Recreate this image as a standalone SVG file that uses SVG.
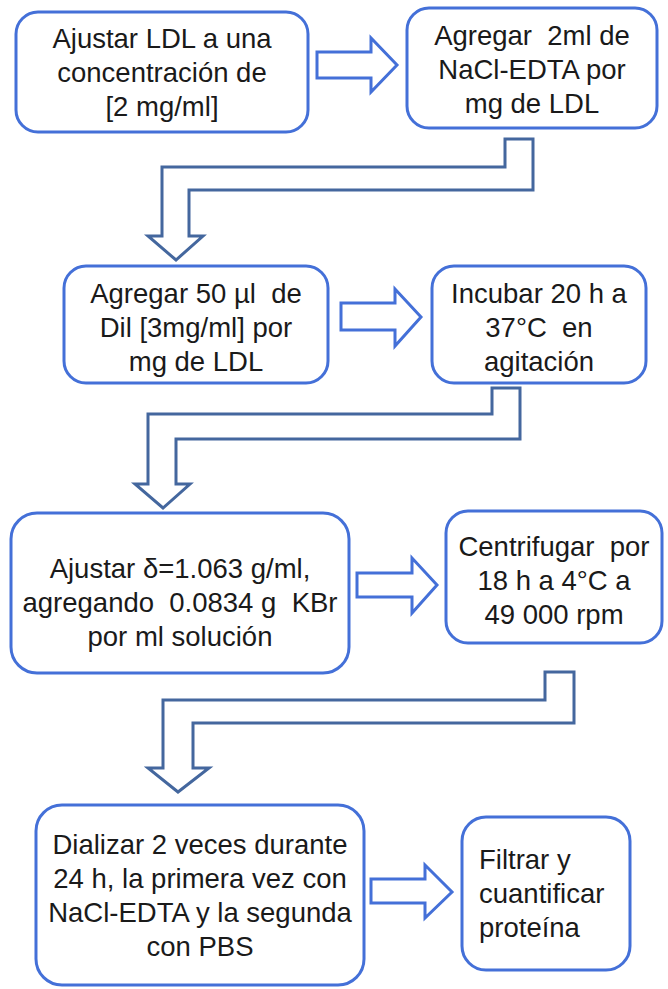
<svg xmlns="http://www.w3.org/2000/svg" width="668" height="989" viewBox="0 0 668 989">
<style>
.box{fill:#ffffff;stroke:#4470d8;stroke-width:3}
.ra{fill:#ffffff;stroke:#4470d8;stroke-width:3;stroke-linejoin:miter}
.lc{fill:#ffffff;stroke:#44679e;stroke-width:3;stroke-linejoin:miter}
text{font-family:"Liberation Sans",Arial,sans-serif;font-size:27.5px;fill:#1a1a1a;white-space:pre}
.c{text-anchor:middle}
</style>
<rect width="668" height="989" fill="#ffffff"/>
<g id="connectors">
<polygon class="ra" points="317,52 371,52 371,38 397,65 371,92 371,78 317,78"/>
<polygon class="ra" points="341,303 395,303 395,289 421,317 395,346 395,330 341,330"/>
<polygon class="ra" points="357,573 412,573 412,558 437,585 412,613 412,597 357,597"/>
<polygon class="ra" points="371,879 425,879 425,865 452,892 425,918 425,903 371,903"/>
<polygon class="lc" points="505,139 533,139 533,190 189,190 189,236 203,236 176,260 148,236 162,236 162,167 505,167"/>
<polygon class="lc" points="492,388 520,388 520,439 176,439 176,484 190,484 163,508 135,484 148,484 148,414 492,414"/>
<polygon class="lc" points="545,672 574,672 574,723 193,723 193,768 209,768 178,792 148,768 163,768 163,700 545,700"/>
</g>
<g id="n1">
<rect class="box" x="16" y="12" width="292" height="120" rx="22"/>
<text class="c" x="162" y="48">Ajustar LDL a una</text>
<text class="c" x="162" y="82">concentración de</text>
<text class="c" x="162" y="116">[2 mg/ml]</text>
</g>
<g id="n2">
<rect class="box" x="407" y="8" width="250" height="120" rx="22"/>
<text class="c" x="532" y="45">Agregar  2ml de</text>
<text class="c" x="532" y="79">NaCl-EDTA por</text>
<text class="c" x="532" y="113">mg de LDL</text>
</g>
<g id="n3">
<rect class="box" x="64" y="266" width="264" height="117" rx="22"/>
<text class="c" x="196" y="303">Agregar 50 µl  de</text>
<text class="c" x="196" y="337">Dil [3mg/ml] por</text>
<text class="c" x="196" y="371">mg de LDL</text>
</g>
<g id="n4">
<rect class="box" x="432" y="266" width="214" height="117" rx="22"/>
<text class="c" x="539" y="303">Incubar 20 h a</text>
<text class="c" x="539" y="337">37°C  en</text>
<text class="c" x="539" y="371">agitación</text>
</g>
<g id="n5">
<rect class="box" x="11" y="513" width="338" height="160" rx="26"/>
<text class="c" x="180" y="578">Ajustar δ=1.063 g/ml,</text>
<text class="c" x="180" y="612">agregando  0.0834 g  KBr</text>
<text class="c" x="180" y="646">por ml solución</text>
</g>
<g id="n6">
<rect class="box" x="446" y="511" width="216" height="132" rx="22"/>
<text class="c" x="554" y="556">Centrifugar  por</text>
<text class="c" x="554" y="590">18 h a 4°C a</text>
<text class="c" x="554" y="624">49 000 rpm</text>
</g>
<g id="n7">
<rect class="box" x="36" y="805" width="328" height="180" rx="26"/>
<text class="c" x="200" y="854">Dializar 2 veces durante</text>
<text class="c" x="200" y="888">24 h, la primera vez con</text>
<text class="c" x="200" y="922">NaCl-EDTA y la segunda</text>
<text class="c" x="200" y="956">con PBS</text>
</g>
<g id="n8">
<rect class="box" x="462" y="817" width="168" height="153" rx="24"/>
<text x="479" y="869">Filtrar y</text>
<text x="479" y="903">cuantificar</text>
<text x="479" y="937">proteína</text>
</g>
</svg>
